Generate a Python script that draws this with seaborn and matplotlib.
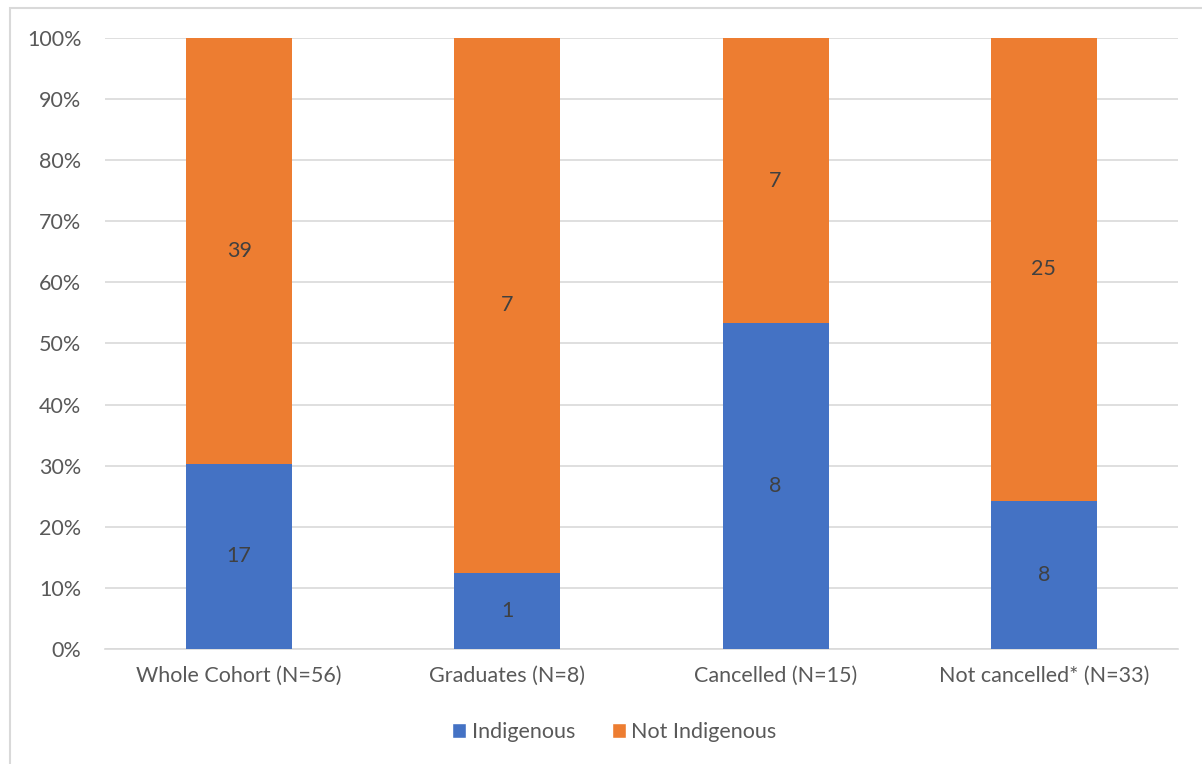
import matplotlib
matplotlib.use("Agg")
import matplotlib.pyplot as plt
from matplotlib.patches import Rectangle, Patch
import seaborn as sns
import pandas as pd

categories = ["Whole Cohort (N=56)", "Graduates (N=8)", "Cancelled (N=15)", "Not cancelled* (N=33)"]
indigenous = [17, 1, 8, 8]
not_indigenous = [39, 7, 7, 25]

BLUE = "#4472C4"
ORANGE = "#ED7D31"
TEXT = "#595959"
LABEL = "#404040"
GRID = "#D9D9D9"
FS = 15.5

sns.set_theme(style="white")
plt.rcParams["font.family"] = ["Lato", "DejaVu Sans"]

totals = [a + b for a, b in zip(indigenous, not_indigenous)]
df = pd.DataFrame({
    "category": categories,
    "ind_pct": [a / t * 100 for a, t in zip(indigenous, totals)],
    "total_pct": [100.0] * len(categories),
})

fig = plt.figure(figsize=(12.02, 7.64), dpi=100)
ax = fig.add_axes([0.0874, 0.1505, 0.8926, 0.7998])

# stacked: full-height orange first, blue share drawn over it
sns.barplot(data=df, x="category", y="total_pct", color=ORANGE, width=0.395,
            saturation=1, linewidth=0, ax=ax, zorder=3)
sns.barplot(data=df, x="category", y="ind_pct", color=BLUE, width=0.395,
            saturation=1, linewidth=0, ax=ax, zorder=3)

for i, (a, b, t) in enumerate(zip(indigenous, not_indigenous, totals)):
    pa = a / t * 100
    ax.text(i, pa / 2, str(a), ha="center", va="center", fontsize=FS, color=LABEL, zorder=4)
    ax.text(i, pa + (100 - pa) / 2, str(b), ha="center", va="center", fontsize=FS, color=LABEL, zorder=4)

ax.set_ylim(0, 100)
ax.set_xlim(-0.5, len(categories) - 0.5)
ax.set_yticks(range(0, 101, 10))
ax.set_yticklabels([f"{v}%" for v in range(0, 101, 10)])
ax.yaxis.grid(True, color=GRID, linewidth=1.2, zorder=0)
ax.set_axisbelow(True)
ax.set_xlabel("")
ax.set_ylabel("")
for s in ["top", "right", "left"]:
    ax.spines[s].set_visible(False)
ax.spines["bottom"].set_color(GRID)
ax.spines["bottom"].set_linewidth(1.2)
ax.tick_params(axis="both", length=0, colors=TEXT, labelsize=FS)
ax.tick_params(axis="x", pad=12)
ax.tick_params(axis="y", pad=17)

handles = [Patch(facecolor=BLUE, label="Indigenous"), Patch(facecolor=ORANGE, label="Not Indigenous")]
leg = fig.legend(handles=handles, loc="center", bbox_to_anchor=(0.511, 0.042), ncol=2,
                 frameon=False, fontsize=FS, handlelength=0.65, handleheight=0.65,
                 handletextpad=0.25, columnspacing=1.7)
for t in leg.get_texts():
    t.set_color(TEXT)

# chart frame
fig.patches.append(Rectangle((10 / 1202, -0.01), 1.02, 1 - 8 / 764 + 0.01,
                             transform=fig.transFigure, fill=False,
                             edgecolor=GRID, linewidth=1.5))

fig.savefig("out.png", dpi=100, facecolor="white")
